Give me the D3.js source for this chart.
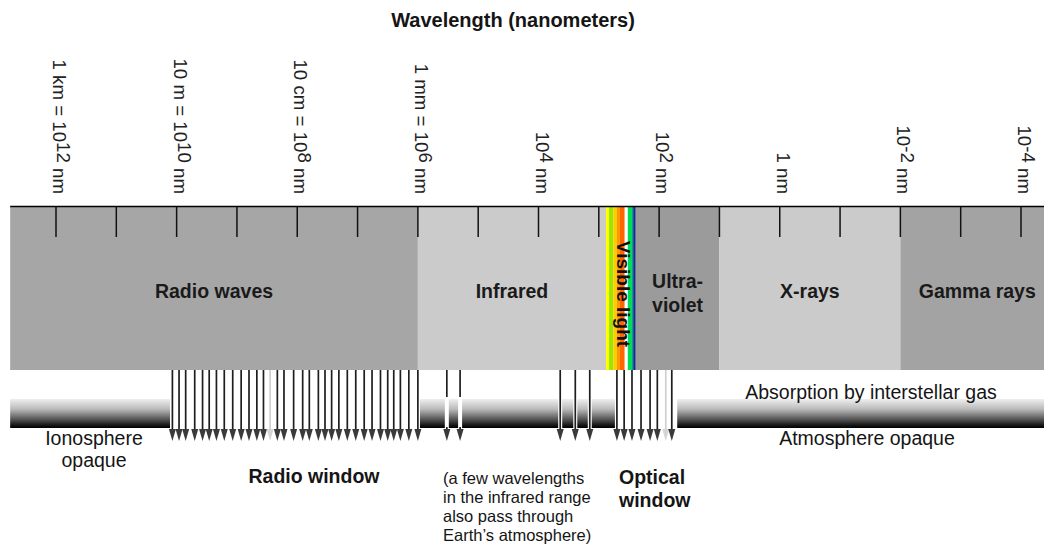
<!DOCTYPE html>
<html><head><meta charset="utf-8">
<script src="https://cdn.jsdelivr.net/npm/d3@7"></script>
<style>body{margin:0;background:#fff}svg{display:block;font-family:"Liberation Sans",Arial,Helvetica,sans-serif}</style>
</head><body><svg id="c" width="1044" height="546"></svg>
<script>
// ---------- data (log10 of wavelength in nm) ----------
const tickExponents = [12,11,10,9,8,7,6,5,4,3,2,1,0,-1,-2,-3,-4];
const labelExponents = [12,10,8,6,4,2,0,-2,-4];
const labelPrefixes = ["1 km = 10","10 m = 10","10 cm = 10","1 mm = 10","10","10","1","10","10"];
const labelPowers = ["12","10","8","6","4","2","","-2","-4"];
const bandNames = ["Radio waves","Infrared","Ultra-|violet","X-rays","Gamma rays"];
const bandFrom = [12.76, 6, 2.39, 1, -2];
const bandTo   = [6, 2.88, 1, -2, -4.55];
const visibleEdges = [2.88,2.83,2.76,2.70,2.65,2.57,2.52,2.45,2.43,2.39];
const opaqueFrom = [12.76, 5.97, 1.70];
const opaqueTo   = [10.11, 2.70, -4.55];
const radioWindow = [10.07,9.96,9.85,9.70,9.57,9.46,9.34,9.21,9.07,8.93,8.80,8.67,8.56,8.45,8.33,8.22,8.06,7.91,7.80,7.65,7.54,7.43,7.31,7.17,7.03,6.89,6.76,6.62,6.50,6.40,6.29,6.15,6.00];
const infraredBlocked = [5.52, 5.30];
const infraredWindow = [3.64, 3.39, 3.15];
const opticalWindow = [2.70,2.58,2.45,2.30,2.15,2.03,1.89,1.79];
const faintArrows = [8.45, 1.89];

// ---------- styles ----------
const bandFill = ["#a6a6a6","#cbcbcb","#9b9b9b","#cbcbcb","#a3a3a3"];
const visibleColors = ["#ffff00","#9be600","#ffcc00","#ff9900","#ff6600","#ffffff","#00dd55","#00a0a0","#1a2a80"];
const ink = "#151515";

const svg = d3.select("#c");
const x = d3.scaleLinear().domain([12,-4]).range([56,1021]);
const bandTop = 207, bandBottom = 370;

// gradient for opaque bars
const defs = svg.append("defs");
const g = defs.append("linearGradient").attr("id","opq").attr("x1",0).attr("y1",0).attr("x2",0).attr("y2",1);
[[0,"#efefef"],[0.35,"#bababa"],[0.7,"#555"],[0.92,"#111"],[1,"#000"]].forEach(([o,c])=>g.append("stop").attr("offset",o).attr("stop-color",c));

// title
svg.append("text").attr("x",513).attr("y",27).attr("text-anchor","middle")
  .attr("font-size",20).attr("font-weight","bold").attr("fill",ink).text("Wavelength (nanometers)");

// top rotated labels
labelExponents.forEach((e,i)=>{
  const t = svg.append("text").attr("transform",`translate(${x(e)-3},194) rotate(90)`)
    .attr("text-anchor","end").attr("font-size",18.7).attr("fill","#222");
  t.append("tspan").text(labelPrefixes[i]);
  if (labelPowers[i]) {
    t.append("tspan").attr("dy",-4).text(labelPowers[i]);
    t.append("tspan").attr("dy",4).text(" nm");
  } else t.append("tspan").text(" nm");
});

// bands
svg.selectAll("rect.band").data(bandNames).join("rect").attr("class","band")
  .attr("x",(d,i)=>x(bandFrom[i])).attr("width",(d,i)=>x(bandTo[i])-x(bandFrom[i]))
  .attr("y",bandTop).attr("height",bandBottom-bandTop).attr("fill",(d,i)=>bandFill[i]);

// visible stripes
visibleColors.forEach((c,i)=>{
  svg.append("rect").attr("x",x(visibleEdges[i])).attr("width",x(visibleEdges[i+1])-x(visibleEdges[i]))
    .attr("y",bandTop).attr("height",bandBottom-bandTop).attr("fill",c);
});

// top line and ticks
svg.append("line").attr("x1",x(12.76)).attr("x2",1044).attr("y1",bandTop-0.5).attr("y2",bandTop-0.5)
  .attr("stroke","#000").attr("stroke-width",1.6);
svg.selectAll("line.tick").data(tickExponents).join("line").attr("class","tick")
  .attr("x1",d=>x(d)).attr("x2",d=>x(d)).attr("y1",bandTop).attr("y2",bandTop+30)
  .attr("stroke","#111").attr("stroke-width",1.5);

// band labels
bandNames.forEach((n,i)=>{
  const cx = (x(bandFrom[i])+x(bandTo[i]))/2;
  const lines = n.split("|");
  const t = svg.append("text").attr("text-anchor","middle").attr("font-size",19.5)
    .attr("font-weight","bold").attr("fill","#1a1a1a");
  lines.forEach((l,j)=>t.append("tspan").attr("x",cx).attr("y",lines.length===1?298:288+j*24).text(l));
});
svg.append("text").attr("transform",`translate(${(x(visibleEdges[0])+x(visibleEdges[9]))/2-4},294) rotate(90)`)
  .attr("text-anchor","middle").attr("font-size",19).attr("font-weight","bold").attr("fill","#111").text("Visible light");

// opaque bars
opaqueFrom.forEach((f,i)=>{
  svg.append("rect").attr("x",x(f)).attr("width",x(opaqueTo[i])-x(f)).attr("y",399).attr("height",29).attr("fill","url(#opq)");
});

// arrows
function arrow(e, broken){
  const ax = x(e), faint = faintArrows.includes(e);
  const col = faint ? "#cfcfcf" : "#1e1e1e";
  svg.append("line").attr("x1",ax).attr("x2",ax).attr("y1",bandBottom).attr("y2",432)
    .attr("stroke","#fff").attr("stroke-width",4);
  if (broken) {
    svg.append("line").attr("x1",ax).attr("x2",ax).attr("y1",bandBottom).attr("y2",397).attr("stroke",col).attr("stroke-width",1.7);
    svg.append("line").attr("x1",ax).attr("x2",ax).attr("y1",427).attr("y2",432).attr("stroke",col).attr("stroke-width",1.7);
  } else {
    svg.append("line").attr("x1",ax).attr("x2",ax).attr("y1",bandBottom).attr("y2",432).attr("stroke",col).attr("stroke-width",1.7);
  }
  svg.append("path").attr("d",`M${ax-3.5},429L${ax+3.5},429L${ax},441Z`).attr("fill",faint?"#d5d5d5":"#3a3a3a");
}
radioWindow.forEach(e=>arrow(e,false));
infraredBlocked.forEach(e=>arrow(e,true));
infraredWindow.forEach(e=>arrow(e,false));
opticalWindow.forEach(e=>arrow(e,false));

// annotations
function txt(xp,yp,s,opts={}){
  svg.append("text").attr("x",xp).attr("y",yp).attr("text-anchor",opts.anchor||"middle")
    .attr("font-size",opts.size||19.5).attr("font-weight",opts.bold?"bold":"normal").attr("fill",ink).text(s);
}
txt(94,445,"Ionosphere");
txt(94,467,"opaque");
txt(314,483,"Radio window",{bold:true,size:19.5});
txt(871,399,"Absorption by interstellar gas");
txt(867,445,"Atmosphere opaque");
txt(619,484,"Optical",{bold:true,size:19.5,anchor:"start"});
txt(619,507,"window",{bold:true,size:19.5,anchor:"start"});
["(a few wavelengths","in the infrared range","also pass through","Earth\u2019s atmosphere)"].forEach((s,i)=>
  txt(443,484+i*19,s,{anchor:"start",size:16.5}));
</script></body></html>
